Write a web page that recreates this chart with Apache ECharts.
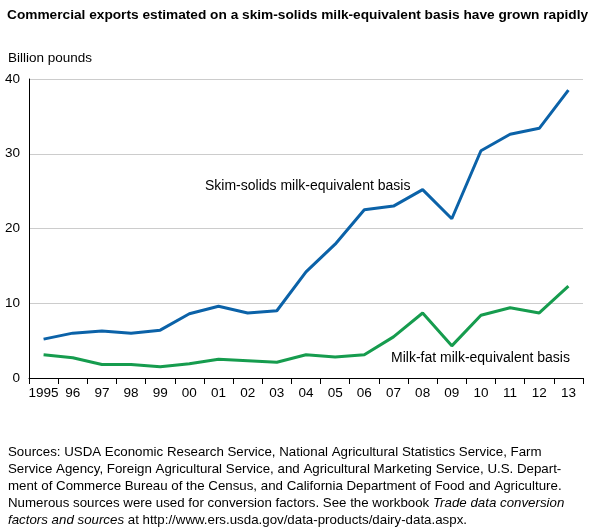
<!DOCTYPE html><html><head><meta charset="utf-8"><script src="https://cdn.jsdelivr.net/npm/echarts@6/dist/echarts.min.js"></script>
<style>body{margin:0;font-family:Arial,"Liberation Sans",sans-serif}#c{width:596px;height:527px}</style></head><body><div id="c"></div>
<script>
const categories=['1995','96','97','98','99','00','01','02','03','04','05','06','07','08','09','10','11','12','13'];
const skimSolids=[5.2,6.0,6.3,6.0,6.4,8.6,9.6,8.7,9.0,14.2,17.9,22.5,23.0,25.2,21.3,30.4,32.6,33.4,38.5];
const milkFat=[3.1,2.7,1.8,1.8,1.5,1.9,2.5,2.3,2.1,3.1,2.8,3.1,5.5,8.7,4.3,8.4,9.4,8.7,12.3];
const F='Arial,"Liberation Sans",sans-serif';
const chart=echarts.init(document.getElementById('c'));
const ts={fontSize:14,fontFamily:F,fill:'#000'};
chart.setOption({
 animation:false,
 title:[{text:'Commercial exports estimated on a skim-solids milk-equivalent basis have grown rapidly',left:2,top:3,textStyle:{fontSize:13.7,fontWeight:'bold',fontFamily:F,color:'#000'}},
 {text:'Billion pounds',left:3,top:46,textStyle:{fontSize:13.5,fontWeight:'normal',fontFamily:F,color:'#000'}},
 {text:'Sources: USDA Economic Research Service, National Agricultural Statistics Service, Farm\nService Agency, Foreign Agricultural Service, and Agricultural Marketing Service, U.S. Depart-\nment of Commerce Bureau of the Census, and California Department of Food and Agriculture.\nNumerous sources were used for conversion factors. See the workbook {i|Trade data conversion}\n{i|factors and sources} at http://www.ers.usda.gov/data-products/dairy-data.aspx.',left:3,top:439,
  textStyle:{fontSize:13.3,fontWeight:'normal',fontFamily:F,color:'#000',lineHeight:17,rich:{i:{fontStyle:'italic',fontSize:13.3,fontFamily:F}}}}],
 grid:{left:29,right:13,top:79,bottom:149,containLabel:false},
 xAxis:{type:'category',data:categories,boundaryGap:true,
  axisLine:{lineStyle:{color:'#000'}},axisTick:{show:true,length:6,lineStyle:{color:'#000'}},
  axisLabel:{color:'#000',fontSize:13.5,fontFamily:F,margin:8,interval:0}},
 yAxis:{type:'value',min:0,max:40,interval:10,
  axisLine:{show:true,lineStyle:{color:'#000'}},axisTick:{show:false},
  axisLabel:{color:'#000',fontSize:13.5,fontFamily:F,margin:9},
  splitLine:{lineStyle:{color:'#ccc'}}},
 graphic:[
  {type:'text',left:205,top:179,style:Object.assign({text:'Skim-solids milk-equivalent basis'},ts)},
  {type:'text',left:391,top:351,style:Object.assign({text:'Milk-fat milk-equivalent basis'},ts)}
 ],
 series:[
  {type:'line',data:skimSolids,symbol:'none',lineStyle:{color:'#0b62a8',width:3}},
  {type:'line',data:milkFat,symbol:'none',lineStyle:{color:'#169c4e',width:3}}
 ]
});
</script></body></html>
